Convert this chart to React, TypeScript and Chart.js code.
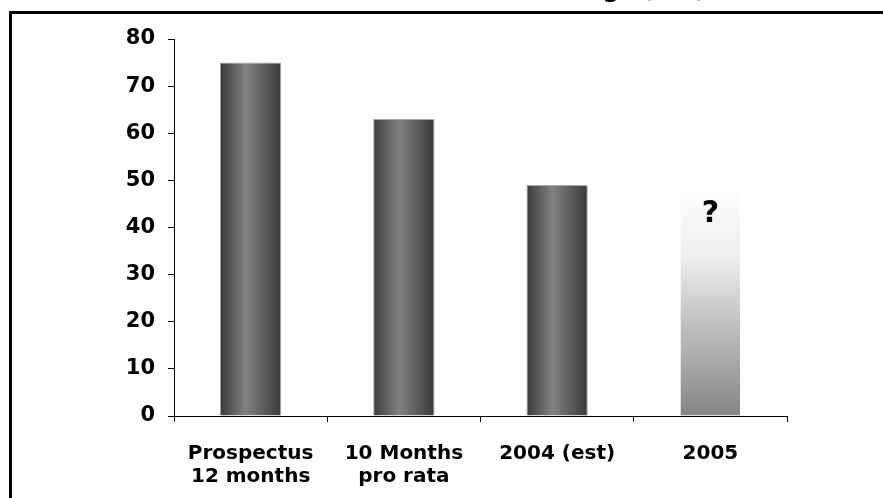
import React, { useEffect, useRef } from "react";
import { Chart, registerables } from "chart.js";

Chart.register(...registerables);

// Earnings by period, £m
const categories: string[][] = [
  ["Prospectus", "12 months"],
  ["10 Months", "pro rata"],
  ["2004 (est)"],
  ["2005"],
];
const earnings: number[] = [75, 63, 49, 49];
const unknownMarker: string[] = ["", "", "", "?"];
const yMin = 0;
const yMax = 80;
const yStep = 10;

const FONT = "'DejaVu Sans', Verdana, sans-serif";

function barFill(ctx: any) {
  const chart = ctx.chart;
  const xs = chart.scales?.x;
  const ys = chart.scales?.y;
  const i = ctx.dataIndex;
  if (!xs || !ys || i === undefined) return "#666";
  const c = chart.ctx as CanvasRenderingContext2D;
  const last = i === earnings.length - 1;
  if (last) {
    // forecast year fades out upwards
    const top = ys.getPixelForValue(earnings[i]);
    const bottom = ys.getPixelForValue(0);
    if (!Number.isFinite(top) || !Number.isFinite(bottom) || top === bottom) return "#aaa";
    const g = c.createLinearGradient(0, top, 0, bottom);
    g.addColorStop(0, "#ffffff");
    g.addColorStop(0.3, "#efefef");
    g.addColorStop(1, "#858585");
    return g;
  }
  const cx = xs.getPixelForValue(i);
  const w = (xs.width / categories.length) * 0.4;
  if (!Number.isFinite(cx) || !Number.isFinite(w) || w <= 0) return "#666";
  const g = c.createLinearGradient(cx - w / 2, 0, cx + w / 2, 0);
  g.addColorStop(0, "#3a3a3a");
  g.addColorStop(0.42, "#828282");
  g.addColorStop(1, "#3a3a3a");
  return g;
}

const markerPlugin = {
  id: "unknownMarker",
  afterDatasetsDraw(chart: any) {
    const meta = chart.getDatasetMeta(0);
    const c = chart.ctx as CanvasRenderingContext2D;
    c.save();
    c.fillStyle = "#000";
    c.font = `bold 30px ${FONT}`;
    c.textAlign = "center";
    c.textBaseline = "middle";
    meta.data.forEach((bar: any, i: number) => {
      const t = unknownMarker[i];
      if (!t) return;
      c.fillText(t, bar.x, bar.y + 29);
    });
    c.restore();
  },
};

export default function App() {
  const ref = useRef<HTMLCanvasElement>(null);

  useEffect(() => {
    if (!ref.current) return;
    const chart = new Chart(ref.current, {
      type: "bar",
      data: {
        labels: categories,
        datasets: [
          {
            data: earnings,
            backgroundColor: barFill,
            borderColor: (ctx: any) =>
              ctx.dataIndex === earnings.length - 1 ? "rgba(0,0,0,0)" : "#a8a8a8",
            borderWidth: 1,
            borderSkipped: "bottom",
            barPercentage: 0.4,
            categoryPercentage: 1.0,
          },
        ],
      },
      options: {
        animation: false,
        responsive: false,
        maintainAspectRatio: false,
        layout: { padding: { top: 39, right: 96, left: 0, bottom: 0 } },
        plugins: {
          legend: { display: false },
          tooltip: { enabled: false },
          title: { display: false },
        },
        scales: {
          x: {
            grid: {
              offset: true,
              drawOnChartArea: false,
              drawTicks: true,
              tickLength: 6,
              color: "#000",
            },
            border: { color: "#000", width: 1 },
            ticks: {
              color: "#000",
              font: { family: FONT, size: 20, weight: "bold", lineHeight: 1.15 },
              padding: 20,
              maxRotation: 0,
              autoSkip: false,
            },
            afterFit: (s: any) => {
              s.height = 82;
            },
          },
          y: {
            min: yMin,
            max: yMax,
            grid: {
              drawOnChartArea: false,
              drawTicks: true,
              tickLength: 6,
              color: "#000",
            },
            border: { color: "#000", width: 1 },
            ticks: {
              stepSize: yStep,
              color: "#000",
              font: { family: FONT, size: 21, weight: "bold" },
              padding: 13,
            },
            afterFit: (s: any) => {
              s.width = 174;
            },
          },
        },
      },
      plugins: [markerPlugin],
    });
    return () => chart.destroy();
  }, []);

  return (
    <div
      style={{
        position: "fixed",
        left: 0,
        top: 0,
        width: 883,
        height: 498,
        background: "#fff",
        overflow: "hidden",
      }}
    >
      <div
        style={{
          position: "absolute",
          right: 177,
          top: -23,
          height: 24,
          lineHeight: "24px",
          fontFamily: FONT,
          fontWeight: "bold",
          fontSize: 24,
          whiteSpace: "nowrap",
          color: "#000",
        }}
      >
        Earnings (£m)
      </div>
      <div
        style={{
          position: "absolute",
          left: 9,
          top: 11,
          right: -10,
          bottom: -10,
          borderTop: "3px solid #000",
          borderLeft: "3px solid #000",
        }}
      />
      <canvas
        ref={ref}
        width={883}
        height={498}
        style={{ position: "absolute", left: 0, top: 0, width: 883, height: 498 }}
      />
    </div>
  );
}
